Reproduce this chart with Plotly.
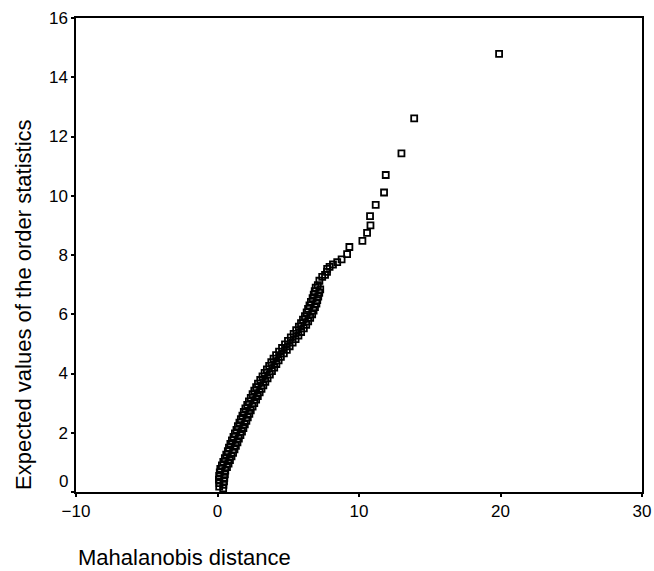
import plotly.graph_objects as go

# Mahalanobis distance (x) and expected values of the order statistics (y)
mahalanobis = [
    0.40, 0.12, 0.42, 0.14, 0.46, 0.10, 0.48, 0.12, 0.52, 0.16, 0.55,
    0.20, 0.67, 0.31, 0.78, 0.41, 0.88, 0.52, 0.99, 0.62, 1.10, 0.73,
    1.20, 0.81, 1.30, 0.91, 1.41, 1.02, 1.51, 1.13, 1.62, 1.23, 1.73,
    1.34, 1.83, 1.44, 1.93, 1.55, 2.04, 1.65, 2.14, 1.76, 2.25, 1.86, 2.35,
    1.97, 2.48, 2.10, 2.60, 2.22, 2.73, 2.35,
    2.85, 2.48, 2.98, 2.60, 3.11, 2.73, 3.24, 2.86,
    3.38, 3.02, 3.54, 3.18, 3.70, 3.33, 3.85,
    3.49, 4.01, 3.65, 4.16, 3.80, 4.32, 3.96, 4.48,
    4.14, 4.69, 4.35, 4.90, 4.56,
    5.10, 4.77, 5.31, 4.98, 5.52, 5.18,
    5.72, 5.38, 5.91, 5.56, 6.10, 5.75,
    6.27, 5.90, 6.41, 6.04, 6.55, 6.18, 6.69,
    6.30, 6.79, 6.40, 6.89, 6.50, 6.99, 6.60,
    7.05, 6.72, 7.12, 6.80, 7.19, 6.87, 7.26, 6.94,
    7.09, 7.20, 7.40, 7.60, 7.74, 7.75, 7.92, 8.16, 8.46, 8.77,
    9.16, 9.32, 10.24, 10.57, 10.81, 10.78, 11.18, 11.77, 11.89,
    13.00, 13.90, 19.90,
]
expected = [
    0.12, 0.18, 0.24, 0.30, 0.36, 0.42, 0.48, 0.54, 0.60, 0.66, 0.72,
    0.78, 0.84, 0.90, 0.96, 1.02, 1.08, 1.14, 1.20, 1.26, 1.32, 1.38,
    1.44, 1.50, 1.56, 1.62, 1.68, 1.74, 1.80, 1.86, 1.92, 1.98, 2.04,
    2.10, 2.16, 2.22, 2.28, 2.34, 2.40, 2.46, 2.52, 2.58, 2.64, 2.70, 2.76,
    2.82, 2.88, 2.94, 3.00, 3.06, 3.12, 3.18,
    3.24, 3.30, 3.36, 3.42, 3.48, 3.54, 3.60, 3.66,
    3.72, 3.78, 3.84, 3.90, 3.96, 4.02, 4.08,
    4.14, 4.20, 4.26, 4.32, 4.38, 4.44, 4.50, 4.56,
    4.62, 4.68, 4.74, 4.80, 4.86,
    4.92, 4.98, 5.04, 5.10, 5.16, 5.22,
    5.28, 5.34, 5.40, 5.46, 5.52, 5.58,
    5.64, 5.70, 5.76, 5.82, 5.88, 5.94, 6.00,
    6.06, 6.12, 6.18, 6.24, 6.30, 6.36, 6.42,
    6.48, 6.54, 6.60, 6.66, 6.72, 6.78, 6.84, 6.90,
    6.98, 7.13, 7.26, 7.33, 7.43, 7.53, 7.60, 7.68, 7.76, 7.85,
    8.03, 8.27, 8.48, 8.75, 9.00, 9.31, 9.69, 10.11, 10.70,
    11.43, 12.61, 14.79,
]

x_ticks = [-10, 0, 10, 20, 30]
y_ticks = [0, 2, 4, 6, 8, 10, 12, 14, 16]
# the "0" label on the y axis sits a little above its tick, drawn separately
y_ticktext = ["" if v == 0 else str(v) for v in y_ticks]

FONT = "Arial, Liberation Sans, sans-serif"

fig = go.Figure()
fig.add_trace(go.Scatter(
    x=mahalanobis, y=expected, mode="markers",
    marker=dict(symbol="square-open", size=6, color="black",
                line=dict(color="black", width=1.8)),
    showlegend=False, hoverinfo="x+y",
))

axis_common = dict(
    showgrid=False, zeroline=False, showline=True, linecolor="black",
    linewidth=1.5, mirror=True, ticks="outside", ticklen=3, tickwidth=2,
    tickcolor="black", automargin=False,
    tickfont=dict(family=FONT, size=17, color="black"),
)

fig.update_layout(
    width=654, height=571,
    margin=dict(l=76, r=12, t=18, b=79),
    paper_bgcolor="white", plot_bgcolor="white",
    xaxis=dict(range=[-10, 30], tickvals=x_ticks, **axis_common),
    yaxis=dict(range=[0, 16], tickvals=y_ticks, ticktext=y_ticktext, **axis_common),
    annotations=[
        dict(text="0", xref="paper", yref="y", x=0, y=0,
             xanchor="right", yanchor="middle", xshift=-6, yshift=11,
             showarrow=False, font=dict(family=FONT, size=17, color="black")),
        dict(text="Mahalanobis distance", xref="paper", yref="paper",
             x=0, y=0, xanchor="left", yanchor="middle", yshift=-65,
             showarrow=False, font=dict(family=FONT, size=22, color="black")),
        dict(text="Expected values of the order statistics", xref="paper", yref="paper",
             x=-0.0928, y=0, xanchor="center", yanchor="bottom", textangle=-90,
             showarrow=False, font=dict(family=FONT, size=22, color="black")),
    ],
)

# remove the page's default body margin so the 654x571 figure fills the window
fig.write_html(
    "out.html",
    config={"displayModeBar": False},
    post_script="document.body.style.margin='0';document.body.style.overflow='hidden';",
)
